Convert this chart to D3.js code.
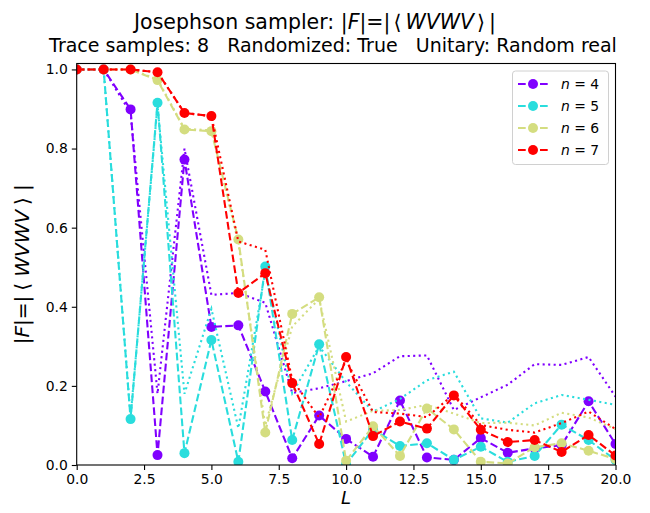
<!DOCTYPE html>
<html><head><meta charset="utf-8">
<script src="https://cdn.jsdelivr.net/npm/d3@7"></script>
<style>
body{margin:0;background:#fff;}
svg text{font-family:"DejaVu Sans",sans-serif;}
</style></head>
<body><svg id="chart" width="650" height="513"></svg>
<script>
const Ls = d3.range(0, 21);
const nLabels = ["4", "5", "6", "7"];
const colors = ["#8000ff", "#2adddd", "#d4dd80", "#ff0000"];
// measured |F| (dashed, markers)
const meas4 = [1.0,1.0,0.899,0.025,0.772,0.349,0.353,0.186,0.017,0.125,0.066,0.021,0.163,0.019,0.013,0.068,0.031,0.042,0.05,0.161,0.053];
const meas5 = [1.0,1.0,0.116,0.916,0.030,0.316,0.008,0.502,0.063,0.305,0.002,0.09,0.048,0.055,0.013,0.046,0.008,0.023,0.102,0.063,0.013];
const meas6 = [1.0,1.0,1.0,0.973,0.848,0.844,0.570,0.082,0.382,0.424,0.011,0.098,0.023,0.143,0.090,0.008,0.004,0.045,0.055,0.036,0.015];
const meas7 = [1.0,1.0,1.0,0.993,0.890,0.882,0.435,0.485,0.207,0.053,0.273,0.073,0.110,0.092,0.176,0.089,0.058,0.063,0.033,0.076,0.024];
// second curve (dotted, no markers)
const dot4 = [1.0,1.0,0.89,0.18,0.80,0.43,0.435,0.41,0.182,0.194,0.212,0.232,0.275,0.277,0.139,0.171,0.203,0.255,0.253,0.273,0.173];
const dot5 = [1.0,1.0,0.12,0.91,0.18,0.395,0.093,0.49,0.181,0.30,0.21,0.135,0.167,0.214,0.236,0.118,0.107,0.156,0.177,0.165,0.152];
const dot6 = [1.0,1.0,1.0,0.975,0.85,0.846,0.562,0.10,0.35,0.42,0.11,0.137,0.139,0.152,0.13,0.106,0.107,0.10,0.132,0.12,0.091];
const dot7 = [1.0,1.0,1.0,0.993,0.89,0.882,0.565,0.544,0.215,0.12,0.265,0.134,0.13,0.121,0.179,0.101,0.089,0.082,0.106,0.135,0.091];
const measured = [meas4, meas5, meas6, meas7];
const dotted = [dot4, dot5, dot6, dot7];
const xTicks = [0, 2.5, 5, 7.5, 10, 12.5, 15, 17.5, 20];
const yTicks = [0, 0.2, 0.4, 0.6, 0.8, 1.0];

const svg = d3.select("#chart");
const L = 76.7, R = 615.5, T = 63.5, B = 465;
const x = d3.scaleLinear().domain([0, 20]).range([L, R]);
const y = d3.scaleLinear().domain([0, 1.015]).range([B, T]);

function mathLabel(sel, gap) {
  sel.append("tspan").text("|");
  sel.append("tspan").attr("font-style", "italic").text("F");
  sel.append("tspan").text("|=|");
  sel.append("tspan").attr("dx", gap).text("\u27E8");
  sel.append("tspan").attr("dx", gap + 1).attr("font-style", "italic").text("WVWV");
  sel.append("tspan").attr("dx", gap).text("\u27E9");
  sel.append("tspan").attr("dx", gap + 1).text("|");
}

// title
const title = svg.append("text").attr("x", 315).attr("y", 29).attr("text-anchor", "middle")
  .attr("font-size", 20.5).attr("fill", "#000");
title.append("tspan").text("Josephson sampler: ");
mathLabel(title, 3);
svg.append("text").attr("x", 333).attr("y", 52).attr("text-anchor", "middle")
  .attr("font-size", 19).attr("fill", "#000")
  .attr("xml:space", "preserve").style("white-space", "pre")
  .text("Trace samples: 8   Randomized: True   Unitary: Random real");

const plot = svg.append("g");
plot.append("defs").append("clipPath").attr("id", "clip").append("rect")
  .attr("x", L).attr("y", T).attr("width", R - L).attr("height", B - T);
const g = plot.append("g").attr("clip-path", "url(#clip)");

const line = d3.line().x((d, i) => x(Ls[i])).y(d => y(d));
for (let k = 0; k < 4; k++) {
  g.append("path").datum(measured[k]).attr("d", line).attr("fill", "none")
    .attr("stroke", colors[k]).attr("stroke-width", 2.1).attr("stroke-dasharray", "7.7,3.3");
  g.selectAll(null).data(measured[k]).enter().append("circle")
    .attr("cx", (d, i) => x(Ls[i])).attr("cy", d => y(d)).attr("r", 5).attr("fill", colors[k]);
  g.append("path").datum(dotted[k]).attr("d", line).attr("fill", "none")
    .attr("stroke", colors[k]).attr("stroke-width", 2.1).attr("stroke-dasharray", "2.1,3.4");
}

// axes
const xAxis = d3.axisBottom(x).tickValues(xTicks).tickFormat(d3.format(".1f")).tickSizeOuter(0).tickSize(4.9).tickPadding(4);
const yAxis = d3.axisLeft(y).tickValues(yTicks).tickFormat(d3.format(".1f")).tickSizeOuter(0).tickSize(4.9).tickPadding(4);
const gx = svg.append("g").attr("transform", `translate(0,${B})`).call(xAxis);
const gy = svg.append("g").attr("transform", `translate(${L},0)`).call(yAxis);
[gx, gy].forEach(a => {
  a.select(".domain").remove();
  a.selectAll("text").attr("font-size", 13.9).attr("fill", "#000").attr("font-family", "DejaVu Sans");
  a.selectAll("line").attr("stroke", "#000").attr("stroke-width", 1.1);
});
svg.append("rect").attr("x", L).attr("y", T).attr("width", R - L).attr("height", B - T)
  .attr("fill", "none").attr("stroke", "#000").attr("stroke-width", 1.1);

// axis labels
svg.append("text").attr("x", (L + R) / 2).attr("y", 504).attr("text-anchor", "middle")
  .attr("font-size", 18).attr("font-style", "italic").text("L");
const yl = svg.append("text").attr("transform", `translate(29,${(T + B) / 2}) rotate(-90)`)
  .attr("text-anchor", "middle").attr("font-size", 20);
mathLabel(yl, 5);

// legend
const lg = svg.append("g");
lg.append("rect").attr("x", 512.5).attr("y", 71).attr("width", 96).attr("height", 93.5).attr("rx", 3)
  .attr("fill", "#fff").attr("fill-opacity", 0.8).attr("stroke", "#d0d0d0").attr("stroke-width", 1);
nLabels.forEach((n, k) => {
  const yy = 84 + k * 22;
  lg.append("line").attr("x1", 518).attr("x2", 548).attr("y1", yy).attr("y2", yy)
    .attr("stroke", colors[k]).attr("stroke-width", 2.1).attr("stroke-dasharray", "7.7,3.3");
  lg.append("circle").attr("cx", 533).attr("cy", yy).attr("r", 5).attr("fill", colors[k]);
  const t = lg.append("text").attr("x", 561).attr("y", yy + 5).attr("font-size", 13.9)
    .attr("xml:space", "preserve").style("white-space", "pre");
  t.append("tspan").attr("font-style", "italic").text("n");
  t.append("tspan").text(" = " + n);
});
</script></body></html>
